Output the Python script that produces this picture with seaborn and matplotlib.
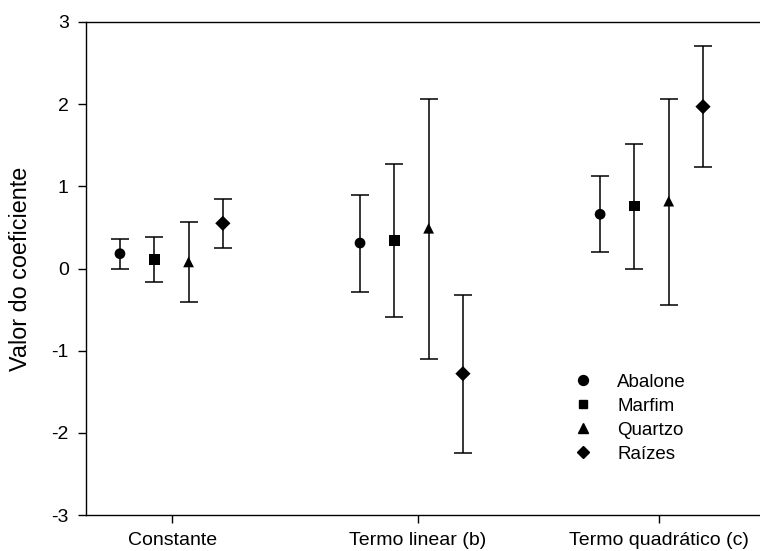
import matplotlib
matplotlib.use('Agg')
import matplotlib.pyplot as plt
import seaborn as sns
import pandas as pd

# categorias do eixo x e materiais (séries)
categorias = ['Constante', 'Termo linear (b)', 'Termo quadrático (c)']
materiais = ['Abalone', 'Marfim', 'Quartzo', 'Raízes']

# valor do coeficiente e limites inferior / superior do intervalo
abalone = [0.18, 0.31, 0.66]
abalone_inf = [0.00, -0.28, 0.20]
abalone_sup = [0.36, 0.90, 1.13]

marfim = [0.11, 0.34, 0.76]
marfim_inf = [-0.17, -0.59, 0.00]
marfim_sup = [0.38, 1.27, 1.51]

quartzo = [0.08, 0.49, 0.82]
quartzo_inf = [-0.41, -1.10, -0.44]
quartzo_sup = [0.56, 2.06, 2.06]

raizes = [0.55, -1.28, 1.97]
raizes_inf = [0.25, -2.24, 1.24]
raizes_sup = [0.85, -0.32, 2.71]

y_ticks = [-3, -2, -1, 0, 1, 2, 3]

series = {
    'Abalone': (abalone, abalone_inf, abalone_sup),
    'Marfim': (marfim, marfim_inf, marfim_sup),
    'Quartzo': (quartzo, quartzo_inf, quartzo_sup),
    'Raízes': (raizes, raizes_inf, raizes_sup),
}

# monta a tabela longa (posição x = grupo * 7 + índice da série)
rows = []
for s, nome in enumerate(materiais):
    val, inf, sup = series[nome]
    for g, cat in enumerate(categorias):
        rows.append({'material': nome, 'categoria': cat, 'x': g * 7 + s,
                     'valor': val[g], 'inf': inf[g], 'sup': sup[g]})
df = pd.DataFrame(rows)

sns.set_style('ticks')
plt.rcParams['font.family'] = ['Liberation Sans', 'DejaVu Sans']
plt.rcParams['axes.unicode_minus'] = False
plt.rcParams['text.color'] = 'black'
plt.rcParams['axes.labelcolor'] = 'black'

fig = plt.figure(figsize=(7.6, 5.51), dpi=100)
ax = fig.add_axes([86 / 760, 36 / 551, 676 / 760, 493 / 551])

marcadores = {'Abalone': 'o', 'Marfim': 's', 'Quartzo': '^', 'Raízes': 'D'}
tamanhos = {'Abalone': 7.5, 'Marfim': 6.5, 'Quartzo': 7.5, 'Raízes': 6.5}

# barras de erro assimétricas
for nome in materiais:
    d = df[df['material'] == nome]
    ax.errorbar(d['x'], d['valor'],
                yerr=[d['valor'] - d['inf'], d['sup'] - d['valor']],
                fmt='none', ecolor='black', elinewidth=1.1, capsize=6.3,
                capthick=1.1, zorder=2)

sns.scatterplot(data=df, x='x', y='valor', style='material',
                markers=marcadores, color='black', s=60, edgecolor='black',
                linewidth=0, ax=ax, zorder=3, legend=False)

# legenda sem moldura
handles = [plt.Line2D([], [], linestyle='none', marker=marcadores[m],
                      color='black', markersize=tamanhos[m] * 0.95) for m in materiais]
ax.legend(handles, materiais, loc='upper left', bbox_to_anchor=(0.718, 0.287),
          frameon=False, fontsize=13.5, handletextpad=1.25, labelspacing=0.37,
          borderaxespad=0, borderpad=0, handlelength=1.2, labelcolor='black')

ax.set_xlim(-0.99, 18.72)
ax.set_ylim(-3, 3)
ax.set_yticks(y_ticks)
ax.set_yticklabels([str(t) for t in y_ticks])
ax.set_xticks([1.52, 8.68, 15.71])
ax.set_xticklabels(categorias)
ax.tick_params(axis='both', direction='out', length=5.5, width=1, color='black',
               labelsize=14, labelcolor='black')
ax.tick_params(axis='x', pad=7)
ax.tick_params(axis='y', pad=7)

ax.set_xlabel('')
ax.set_ylabel('Valor do coeficiente', fontsize=16.8)
ax.yaxis.set_label_coords(-0.08, 0.5)

for lado in ['left', 'bottom', 'top']:
    ax.spines[lado].set_color('black')
    ax.spines[lado].set_linewidth(1.0)
ax.spines['right'].set_visible(False)

fig.savefig('out.png', dpi=100)
